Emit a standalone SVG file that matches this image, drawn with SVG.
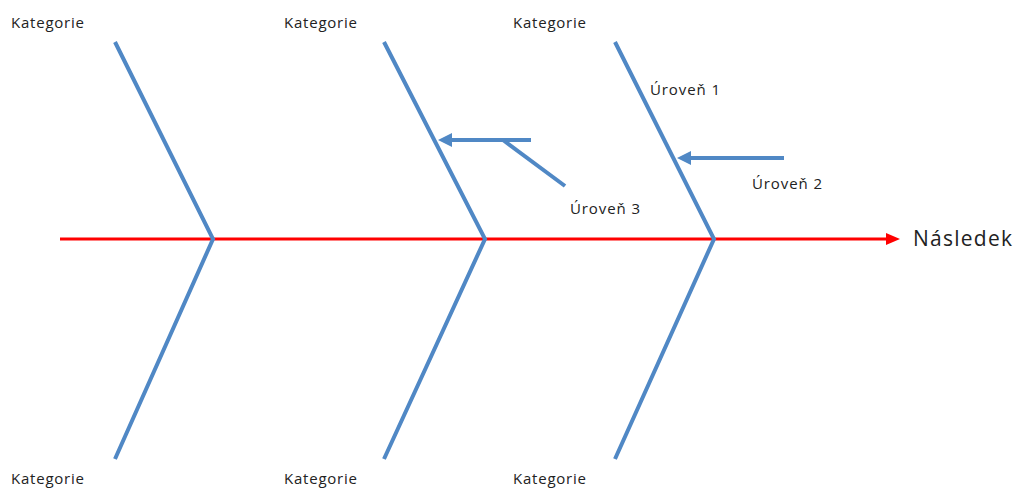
<svg xmlns="http://www.w3.org/2000/svg" width="1019" height="488" viewBox="0 0 1019 488">
  <style>
    .bone { stroke: #5088C5; stroke-width: 4; fill: none; stroke-linecap: butt; }
    .spine { stroke: #FF0000; stroke-width: 3; fill: none; }
    .lbl { font-family: "Open Sans", "Noto Sans", sans-serif; font-size: 15px; fill: #222; }
    .big { font-family: "Open Sans", "Noto Sans", sans-serif; font-size: 21px; fill: #222; }
  </style>
  <defs>
    <marker id="redHead" viewBox="0 0 14 12" markerWidth="14" markerHeight="12" refX="0" refY="6" orient="auto" markerUnits="userSpaceOnUse">
      <path d="M0,0 L14,6 L0,12 Z" fill="#FF0000"/>
    </marker>
    <marker id="blueHead" viewBox="0 0 14 14" markerWidth="14" markerHeight="14" refX="2" refY="7" orient="auto" markerUnits="userSpaceOnUse">
      <path d="M0,0 L14,7 L0,14 Z" fill="#5088C5"/>
    </marker>
  </defs>

  <g id="connectors">
    <!-- main spine toward the effect -->
    <line class="spine" x1="60" y1="239" x2="886" y2="239" marker-end="url(#redHead)"/>
    <!-- category bones -->
    <polyline class="bone" points="115,42 213,239 115,459"/>
    <polyline class="bone" points="384,42 485,239 384,459"/>
    <polyline class="bone" points="615,42 714,239 615,459"/>
    <!-- level 2 cause -->
    <line class="bone" x1="784" y1="158" x2="689" y2="158" marker-end="url(#blueHead)"/>
    <!-- level 3 cause -->
    <line class="bone" x1="531" y1="140" x2="450" y2="140" marker-end="url(#blueHead)"/>
    <line class="bone" x1="565" y1="186" x2="503" y2="140"/>
  </g>

  <g id="cat-top-1"><text class="lbl" x="11" y="28" textLength="73">Kategorie</text></g>
  <g id="cat-top-2"><text class="lbl" x="284" y="28" textLength="73">Kategorie</text></g>
  <g id="cat-top-3"><text class="lbl" x="513" y="28" textLength="73">Kategorie</text></g>
  <g id="cat-bottom-1"><text class="lbl" x="11" y="484" textLength="73">Kategorie</text></g>
  <g id="cat-bottom-2"><text class="lbl" x="284" y="484" textLength="73">Kategorie</text></g>
  <g id="cat-bottom-3"><text class="lbl" x="513" y="484" textLength="73">Kategorie</text></g>
  <g id="level-1"><text class="lbl" x="650" y="95" textLength="70">Úroveň 1</text></g>
  <g id="level-2"><text class="lbl" x="752" y="189" textLength="70">Úroveň 2</text></g>
  <g id="level-3"><text class="lbl" x="570" y="214" textLength="70">Úroveň 3</text></g>
  <g id="effect"><text class="big" x="913" y="246" textLength="99">Následek</text></g>
</svg>
